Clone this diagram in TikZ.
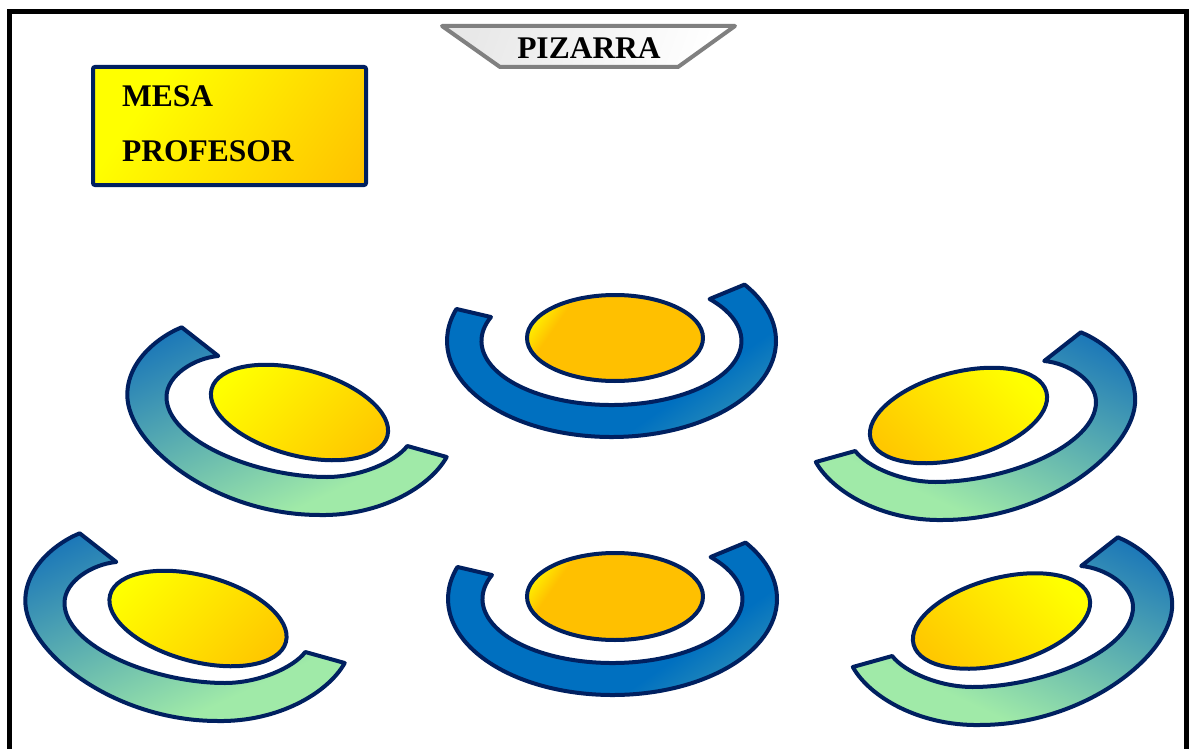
\documentclass[tikz,border=0pt]{standalone}
\usepackage{fontspec}
\setmainfont{Liberation Serif}
\definecolor{navy}{RGB}{0,32,96}
\definecolor{sideblue}{RGB}{28,120,184}
\definecolor{sidegreen}{RGB}{160,234,168}
\definecolor{cblue}{RGB}{0,112,192}
\definecolor{cteal}{RGB}{90,175,175}
\definecolor{tyellow}{RGB}{255,255,0}
\definecolor{tgold}{RGB}{255,200,0}
\definecolor{cgold}{RGB}{255,192,0}
\definecolor{boardgray}{RGB}{128,128,128}
\definecolor{boardfill}{RGB}{232,232,232}
\pgfdeclarehorizontalshading{sidering}{100bp}{color(0bp)=(sideblue); color(22bp)=(sideblue); color(68bp)=(sidegreen); color(100bp)=(sidegreen)}
\pgfdeclarehorizontalshading{centerring}{100bp}{color(0bp)=(cblue); color(62bp)=(cblue); color(86bp)=(cteal); color(100bp)=(cteal)}
\pgfdeclarehorizontalshading{sidetable}{100bp}{color(0bp)=(tyellow); color(25bp)=(tyellow); color(75bp)=(tgold); color(100bp)=(tgold)}
\pgfdeclarehorizontalshading{centertable}{100bp}{color(0bp)=(tyellow); color(20bp)=(tyellow); color(30bp)=(cgold); color(100bp)=(cgold)}
\pgfdeclarehorizontalshading{boardshade}{100bp}{color(0bp)=(boardfill); color(25bp)=(boardfill); color(75bp)=(white); color(100bp)=(white)}
\pgfdeclarehorizontalshading{mesashade}{100bp}{color(0bp)=(tyellow); color(30bp)=(tyellow); color(85bp)=(cgold); color(100bp)=(cgold)}
\tikzset{
  outline/.style={draw=navy, line width=4pt, line join=round},
  ringL/.style={outline, shading=sidering, shading angle=-65},
  ringR/.style={outline, shading=sidering, shading angle=245},
  tableL/.style={outline, shading=sidetable, shading angle=-45},
  tableR/.style={outline, shading=sidetable, shading angle=225},
  ringC/.style={outline, shading=centerring, shading angle=-55},
  tableC/.style={outline, shading=centertable, shading angle=-35},
  board/.style={draw=boardgray, line width=4pt, line join=round, shading=boardshade, shading angle=-20},
  mesabox/.style={draw=navy, line width=4pt, rounded corners=2pt, shading=mesashade, shading angle=-35},
  label/.style={font=\fontsize{31.5}{36}\selectfont\bfseries, inner sep=0pt, text=black},
  frame/.style={draw=black, line width=5pt, line join=miter},
  ringCpic/.pic={
    \path[ringC] (-36:164.5 and 96) arc[start angle=-36, end angle=199.5, x radius=164.5, y radius=96]
      -- (202:130 and 64) arc[start angle=202, end angle=-41, x radius=130, y radius=64] -- cycle;
  }
}
% side ring, drawn for the upper-left desk; others are shifted / mirrored copies
\newcommand{\deskring}[1]{%
  \path[#1] (181.7,327.3)
    .. controls (160,336) and (127.3,360) .. (127.3,395)
    .. controls (127.3,445) and (215,515) .. (320,515)
    .. controls (380,516) and (430,487) .. (446.7,457)
    -- (407.3,446)
    .. controls (395,462) and (360,477) .. (327,477)
    .. controls (255,477) and (166.5,440) .. (166.5,397)
    .. controls (166.5,375) and (195,358) .. (218.3,356)
    -- cycle;}
\begin{document}
\begin{tikzpicture}[x=1pt, y=-1pt]
\useasboundingbox (0,0) rectangle (1189,749);
\fill[white] (0,0) rectangle (1189,749);
% frame
\draw[frame] (9.5,760) -- (9.5,11.5) -- (1186.5,11.5) -- (1186.5,760);
% board
\path[board] (442,26) -- (735,26) -- (678,67) -- (500,67) -- cycle;
\node[label, anchor=base] (pizarra) at (589,59) {PIZARRA};
% teacher desk
\path[mesabox] (93,67) rectangle (366,185);
\node[label, anchor=base west] (mesa1) at (122,107) {MESA};
\node[label, anchor=base west] (mesa2) at (122,162) {PROFESOR};
% side rings
\deskring{ringL}
\begin{scope}[shift={(-102,206)}]
  \deskring{ringL}
\end{scope}
\begin{scope}[shift={(1262.5,5)}, xscale=-1]
  \deskring{ringR}
\end{scope}
\begin{scope}[shift={(1299.5,210)}, xscale=-1]
  \deskring{ringR}
\end{scope}
% centre rings
\pic at (611.5,341) {ringCpic};
\pic at (612.5,599) {ringCpic};
% tables
\path[tableL, rotate around={-15:(299.5,412.5)}] (299.5,412.5) ellipse[x radius=91, y radius=43];
\path[tableL, rotate around={-15:(198,618.5)}] (198,618.5) ellipse[x radius=91, y radius=43];
\path[tableR, rotate around={15:(958.5,415.5)}] (958.5,415.5) ellipse[x radius=91, y radius=43];
\path[tableR, rotate around={15:(1001.5,621)}] (1001.5,621) ellipse[x radius=91, y radius=43];
\path[tableC] (615,338) ellipse[x radius=88, y radius=43];
\path[tableC] (615,596.5) ellipse[x radius=88, y radius=43.5];
\end{tikzpicture}
\end{document}
